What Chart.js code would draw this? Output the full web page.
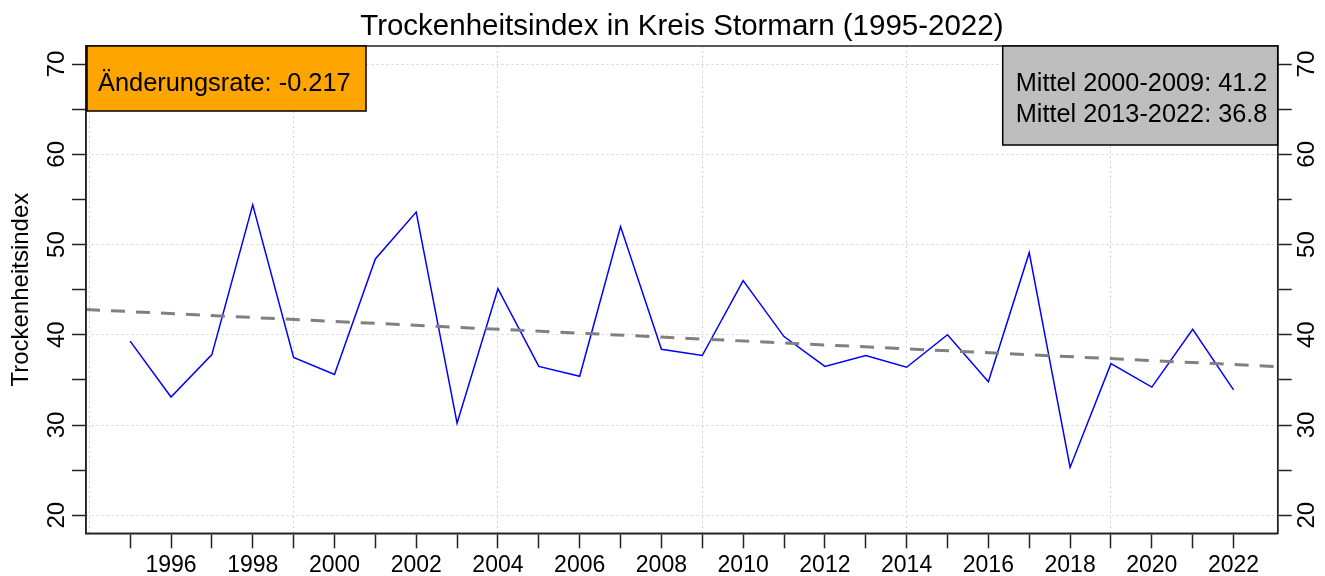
<!DOCTYPE html>
<html>
<head>
<meta charset="utf-8">
<script src="https://cdn.jsdelivr.net/npm/chart.js@4"></script>
<style>
  body { margin: 0; background: #fff; }
</style>
</head>
<body>
<canvas id="lineChart" width="1325" height="576"></canvas>
<script>
// Trockenheitsindex Kreis Stormarn, 1995-2022
const years = [1995, 1996, 1997, 1998, 1999, 2000, 2001, 2002, 2003, 2004, 2005, 2006, 2007, 2008,
  2009, 2010, 2011, 2012, 2013, 2014, 2015, 2016, 2017, 2018, 2019, 2020, 2021, 2022];
const indexValues = [39.3, 33.1, 37.8, 54.4, 37.5, 35.6, 48.4, 53.6, 30.2, 45.1, 36.5, 35.4, 52.0, 38.4,
  37.7, 46.0, 39.8, 36.5, 37.7, 36.4, 40.0, 34.8, 49.1, 25.3, 36.8, 34.2, 40.6, 33.9];

// linearer Trend (Endpunkte am Rand der Achse)
const trendYears = [1993.92, 2023.08];
const trendValues = [42.8, 36.47];

const xGridYears = [1994, 1999, 2004, 2009, 2014, 2019];
const yTicks = [20, 25, 30, 35, 40, 45, 50, 55, 60, 65, 70];
const yLabels = [20, 30, 40, 50, 60, 70];

const rateText = "Änderungsrate: -0.217";
const meanTexts = ["Mittel 2000-2009: 41.2", "Mittel 2013-2022: 36.8"];

const FONT = "'Liberation Sans', Arial, sans-serif";
const AXIS = "#222";
const GRID = "#D3D3D3";
Chart.defaults.font.family = FONT;
Chart.defaults.color = "#000";

const xTickYears = [xGridYears[0]].concat(years);

const boxes = {
  id: "boxes",
  afterDraw(chart) {
    const c = chart.ctx;
    const a = chart.chartArea;
    c.save();
    // Rahmen
    c.strokeStyle = AXIS;
    c.lineWidth = 1.5;
    c.setLineDash([]);
    c.strokeRect(a.left, a.top, a.right - a.left, a.bottom - a.top);

    // gedrehte y-Beschriftungen links und rechts
    const ys = chart.scales.y;
    c.font = "24px " + FONT;
    c.fillStyle = "#000";
    c.textAlign = "center";
    c.textBaseline = "middle";
    yLabels.forEach((v) => {
      const py = ys.getPixelForValue(v);
      [57.5, 1307].forEach((px) => {
        c.save();
        c.translate(px, py);
        c.rotate(-Math.PI / 2);
        c.fillText(String(v), 0, 0);
        c.restore();
      });
    });

    // Änderungsrate
    c.fillStyle = "#FFA500";
    c.fillRect(a.left + 1, a.top, 279, 65);
    c.strokeStyle = "#000";
    c.strokeRect(a.left + 1, a.top, 279, 65);
    c.fillStyle = "#000";
    c.textAlign = "left";
    c.textBaseline = "alphabetic";
    c.font = "25.4px " + FONT;
    c.fillText(rateText, a.left + 12, a.top + 45);

    // Mittelwerte
    c.fillStyle = "#BEBEBE";
    c.fillRect(a.right - 275, a.top, 275, 99);
    c.strokeRect(a.right - 275, a.top, 275, 99);
    c.fillStyle = "#000";
    c.font = "25.3px " + FONT;
    meanTexts.forEach((t, i) => {
      c.fillText(t, a.right - 262, a.top + 45 + i * 30.5);
    });
    c.restore();
  },
};

const ctx = document.getElementById("lineChart");
const myChart = new Chart(ctx, {
  type: "line",
  data: {
    datasets: [
      {
        label: "Trend",
        data: trendYears.map((x, i) => ({ x: x, y: trendValues[i] })),
        borderColor: "#808080",
        borderWidth: 3,
        borderDash: [14, 11],
        pointRadius: 0,
      },
      {
        label: "Trockenheitsindex",
        data: years.map((x, i) => ({ x: x, y: indexValues[i] })),
        borderColor: "#0000FF",
        borderWidth: 1.5,
        pointRadius: 0,
        tension: 0,
      },
    ],
  },
  options: {
    responsive: false,
    animation: false,
    devicePixelRatio: 1,
    layout: { padding: 0 },
    plugins: {
      legend: { display: false },
      tooltip: { enabled: false },
      title: {
        display: true,
        fullSize: false,
        text: "Trockenheitsindex in Kreis Stormarn (1995-2022)",
        color: "#000",
        font: { size: 29.5, weight: "normal", lineHeight: 1.2 },
        padding: { top: 9, bottom: 1.6 },
      },
    },
    scales: {
      x: {
        type: "linear",
        position: "bottom",
        min: 1993.92,
        max: 2023.08,
        afterBuildTicks: (scale) => {
          scale.ticks = xTickYears.map((v) => ({ value: v }));
        },
        afterFit: (scale) => {
          scale.height = 42.7;
        },
        ticks: {
          autoSkip: false,
          maxRotation: 0,
          minRotation: 0,
          padding: 4,
          color: "#000",
          font: { size: 23 },
          callback: (v) => (v >= 1995 && v % 2 === 0 ? String(v) : ""),
        },
        grid: {
          drawOnChartArea: true,
          tickLength: 15,
          lineWidth: 1,
          color: (c) => (xGridYears.includes(c.tick.value) ? GRID : "rgba(0,0,0,0)"),
          tickColor: (c) => (c.tick.value >= 1995 ? AXIS : "rgba(0,0,0,0)"),
          tickWidth: 1.5,
          tickBorderDash: [],
        },
        border: { display: true, color: AXIS, width: 1.5, dash: [2, 3] },
      },
      y: {
        position: "left",
        min: 18,
        max: 72,
        afterBuildTicks: (scale) => {
          scale.ticks = yTicks.map((v) => ({ value: v }));
        },
        afterFit: (scale) => {
          scale.width = 86;
        },
        ticks: { display: false },
        title: {
          display: true,
          text: "Trockenheitsindex",
          color: "#000",
          font: { size: 24 },
          padding: { top: 6.5, bottom: 0 },
        },
        grid: {
          tickLength: 14,
          lineWidth: 1,
          color: (c) => (c.tick.value % 10 === 0 ? GRID : "rgba(0,0,0,0)"),
          tickColor: AXIS,
          tickWidth: 1.5,
          tickBorderDash: [],
        },
        border: { display: true, color: AXIS, width: 1.5, dash: [2, 3] },
      },
      y2: {
        position: "right",
        min: 18,
        max: 72,
        afterBuildTicks: (scale) => {
          scale.ticks = yTicks.map((v) => ({ value: v }));
        },
        afterFit: (scale) => {
          scale.width = 47.3;
        },
        ticks: { display: false },
        grid: {
          drawOnChartArea: false,
          tickLength: 14,
          tickColor: AXIS,
          tickWidth: 1.5,
          tickBorderDash: [],
        },
        border: { display: true, color: AXIS, width: 1.5 },
      },
    },
  },
  plugins: [boxes],
});
</script>
</body>
</html>
